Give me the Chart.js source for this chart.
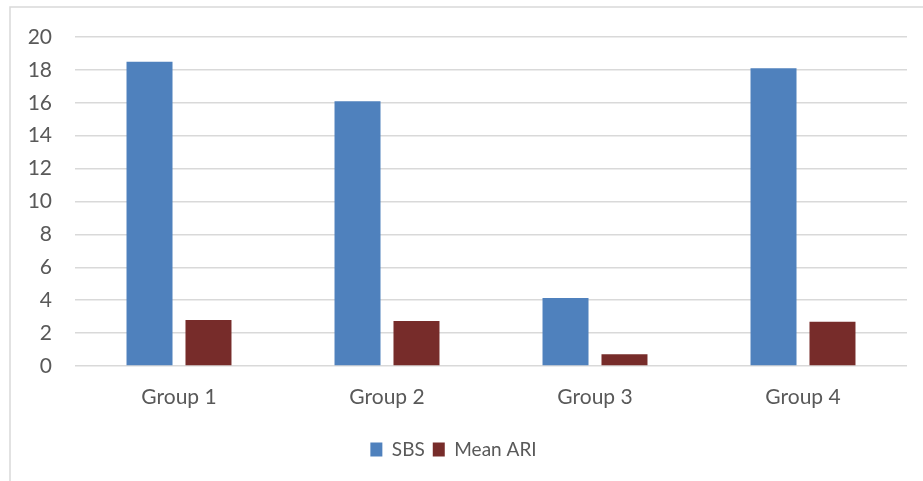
<!DOCTYPE html>
<html>
<head>
<meta charset="utf-8">
<script src="https://cdn.jsdelivr.net/npm/chart.js@4"></script>
<style>
  body { margin: 0; background: #fff; }
</style>
</head>
<body>
<canvas id="barChart" width="923" height="481"></canvas>
<script>
const groups = ['Group 1', 'Group 2', 'Group 3', 'Group 4'];
const sbs_values = [18.5, 16.1, 4.13, 18.1];
const mean_ari_values = [2.8, 2.74, 0.71, 2.69];
const y_ticks = [0, 2, 4, 6, 8, 10, 12, 14, 16, 18, 20];

const textColor = '#595959';
const gridColor = '#d9d9d9';

// white page with the light frame on the left and top
const framePlugin = {
    id: 'frame',
    beforeDraw(chart) {
        const ctx = chart.ctx;
        ctx.save();
        ctx.fillStyle = '#fff';
        ctx.fillRect(0, 0, chart.width, chart.height);
        ctx.strokeStyle = gridColor;
        ctx.lineWidth = 1.5;
        ctx.beginPath();
        ctx.moveTo(10, chart.height);
        ctx.lineTo(10, 7);
        ctx.lineTo(chart.width, 7);
        ctx.stroke();
        ctx.restore();
    }
};

const data = {
    labels: groups,
    datasets: [
        {
            label: 'SBS',
            data: sbs_values,
            backgroundColor: '#4F81BD'
        },
        {
            label: 'Mean ARI',
            data: mean_ari_values,
            backgroundColor: '#772C2A'
        }
    ]
};

const config = {
    type: 'bar',
    data: data,
    options: {
        responsive: false,
        animation: false,
        layout: {
            padding: { left: 0, top: 37, right: 16, bottom: 12 }
        },
        datasets: {
            bar: {
                categoryPercentage: 0.567,
                barPercentage: 0.78
            }
        },
        scales: {
            x: {
                grid: { display: false },
                border: { display: false },
                ticks: {
                    color: textColor,
                    padding: 11,
                    font: { family: 'Lato', size: 21 }
                },
                afterFit(scale) { scale.height = 66; }
            },
            y: {
                min: 0,
                max: 20,
                afterBuildTicks(scale) {
                    scale.ticks = y_ticks.map(v => ({ value: v }));
                },
                grid: { color: gridColor, lineWidth: 1.5, drawTicks: false },
                border: { display: false },
                ticks: {
                    color: textColor,
                    padding: 23,
                    font: { family: 'Lato', size: 21 }
                },
                afterFit(scale) { scale.width = 75; }
            }
        },
        plugins: {
            legend: {
                position: 'bottom',
                labels: {
                    color: textColor,
                    boxWidth: 12,
                    boxHeight: 14,
                    padding: 8,
                    font: { family: 'Lato', size: 19 }
                }
            },
            tooltip: { enabled: false }
        }
    },
    plugins: [framePlugin]
};

const ctx = document.getElementById('barChart').getContext('2d');
const barChart = new Chart(ctx, config);
</script>
</body>
</html>
